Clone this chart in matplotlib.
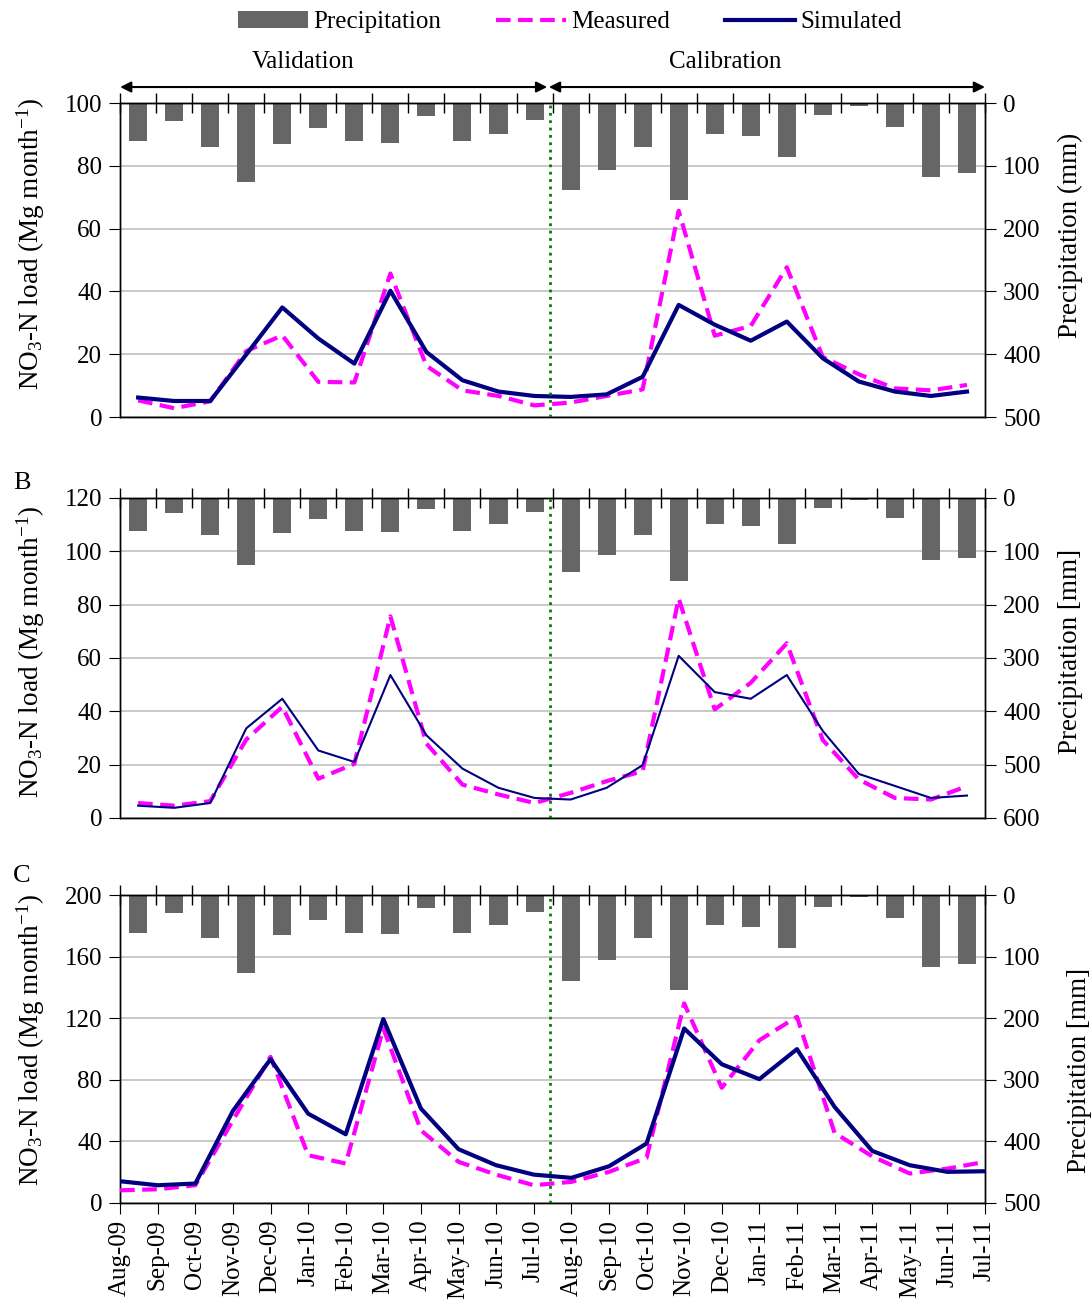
"""
NO3-N monthly load: measured vs simulated with precipitation bars,
three panels (A, B, C), validation / calibration periods.
"""
import numpy as np
import matplotlib
matplotlib.use('Agg')
import matplotlib.pyplot as plt
from matplotlib.patches import Patch
from matplotlib.lines import Line2D

plt.rcParams['font.family'] = ['Liberation Serif', 'DejaVu Serif']
plt.rcParams['mathtext.fontset'] = 'custom'
plt.rcParams['mathtext.rm'] = 'Liberation Serif'
plt.rcParams['mathtext.it'] = 'Liberation Serif:italic'

MONTHS = ['Aug-09', 'Sep-09', 'Oct-09', 'Nov-09', 'Dec-09', 'Jan-10',
          'Feb-10', 'Mar-10', 'Apr-10', 'May-10', 'Jun-10', 'Jul-10',
          'Aug-10', 'Sep-10', 'Oct-10', 'Nov-10', 'Dec-10', 'Jan-11',
          'Feb-11', 'Mar-11', 'Apr-11', 'May-11', 'Jun-11', 'Jul-11']

# precipitation (mm), same for all panels
PRECIP = [61, 29, 70, 126, 65, 40, 61, 64, 21, 61, 49, 27,
          139, 106, 70, 155, 49, 52, 86, 19, 4, 38, 117, 112]

# panel A
MEAS_A = [5.3, 2.8, 5.0, 21.0, 26.0, 11.2, 11.0, 45.7, 16.3, 8.5, 6.7, 3.7,
          4.6, 6.7, 8.8, 65.7, 25.9, 29.0, 47.7, 19.1, 13.6, 9.1, 8.5, 10.2]
SIM_A = [6.2, 5.1, 5.1, 19.9, 34.9, 25.0, 17.0, 40.2, 20.7, 11.7, 8.1, 6.7,
         6.4, 7.2, 12.8, 35.7, 29.4, 24.3, 30.4, 18.7, 11.3, 8.1, 6.7, 8.1]

# panel B
MEAS_B = [5.6, 4.6, 6.3, 29.4, 41.7, 14.7, 20.3, 75.6, 27.9, 12.5, 8.8, 5.6,
          9.4, 13.8, 17.5, 82.3, 40.7, 50.7, 65.5, 29.2, 14.4, 7.5, 6.9, 11.9]
SIM_B = [4.6, 3.8, 5.6, 33.6, 44.7, 25.3, 21.0, 53.6, 31.0, 18.5, 11.3, 7.5,
         6.9, 11.3, 19.8, 60.8, 47.2, 44.7, 53.6, 32.6, 16.5, 12.0, 7.5, 8.4]

# panel C
MEAS_C = [8.2, 8.9, 11.5, 53.7, 94.9, 31.0, 25.6, 113.3, 47.2, 26.7, 18.4, 11.5,
          13.7, 20.2, 29.3, 129.6, 74.8, 105.7, 120.9, 45.5, 30.3, 19.1, 22.3, 26.7]
SIM_C = [14.1, 11.5, 12.6, 59.8, 93.4, 58.0, 44.6, 119.4, 61.3, 34.9, 24.5, 18.4,
         16.3, 23.8, 38.6, 113.3, 90.1, 80.4, 99.9, 62.4, 33.8, 24.5, 20.2, 20.6]

BAR_C = '#666666'
MEAS_COL = '#ff00ff'
SIM_COL = '#000080'
GRID_C = '#c0c0c0'
FS = 18
DASH = (0, (3.5, 1.8))

n = len(MONTHS)
x_cat = np.arange(n) + 0.5                 # category centres (bars)
x_date = np.arange(n) * n / (n - 1)        # date axis ticks, edge to edge

fig = plt.figure(figsize=(10.92, 13.06), dpi=100)
L, R = 0.110, 0.902
boxes = [(0.6807, 0.9211), (0.3737, 0.6187), (0.0789, 0.3147)]

panels = [
    dict(meas=MEAS_A, sim=SIM_A, ymax=100, ystep=20, pmax=500, sim_lw=3.0,
         x=x_cat, rlab='Precipitation (mm)', rlab_xy=(1.084, 0.58),
         llab_y=0.55, dates=False),
    dict(meas=MEAS_B, sim=SIM_B, ymax=120, ystep=20, pmax=600, sim_lw=1.5,
         x=x_cat, rlab='Precipitation [mm]', rlab_xy=(1.084, 0.52),
         llab_y=0.52, dates=False),
    dict(meas=MEAS_C, sim=SIM_C, ymax=200, ystep=40, pmax=500, sim_lw=3.0,
         x=x_date, rlab='Precipitation [mm]', rlab_xy=(1.095, 0.43),
         llab_y=0.53, dates=True),
]

axes = []
for (bot, top), p in zip(boxes, panels):
    ax = fig.add_axes([L, bot, R - L, top - bot])
    ax2 = ax.twinx()
    ax.set_zorder(ax2.get_zorder() + 1)
    ax.patch.set_visible(False)

    # precipitation bars on inverted right axis
    ax2.bar(x_cat, PRECIP, width=0.5, color=BAR_C, zorder=2)
    ax2.set_ylim(p['pmax'], 0)
    ax2.set_yticks(np.arange(0, p['pmax'] + 1, 100))
    ax2.set_axisbelow(True)
    ax2.yaxis.grid(True, color=GRID_C, lw=1.2)
    ax2.tick_params(axis='y', direction='out', length=8, labelsize=FS, pad=5)
    ax2.set_ylabel(p['rlab'], fontsize=FS + 1.5)
    ax2.yaxis.set_label_coords(*p['rlab_xy'])

    # loads
    ax.plot(p['x'], p['meas'], color=MEAS_COL, lw=3, ls=DASH, zorder=3)
    ax.plot(p['x'], p['sim'], color=SIM_COL, lw=p['sim_lw'], zorder=4)
    ax.axvline(11.93, color='#008000', ls=':', lw=2, zorder=5)

    ax.set_xlim(0, n)
    ax.set_ylim(0, p['ymax'])
    ax.set_yticks(np.arange(0, p['ymax'] + 1, p['ystep']))
    ax.tick_params(axis='y', direction='out', length=8, labelsize=FS, pad=5)
    ax.set_ylabel(r'NO$_3$-N load (Mg month$^{-1}$)', fontsize=FS + 1.5)
    ax.yaxis.set_label_coords(-0.085, p['llab_y'])

    if p['dates']:
        ax.set_xticks(x_date)
        ax.set_xticklabels(MONTHS, rotation=90, fontsize=FS)
        ax.tick_params(axis='x', direction='out', length=8, pad=4)
    else:
        ax.tick_params(axis='x', bottom=False, labelbottom=False)

    sec = ax.secondary_xaxis('top')
    sec.set_xticks(np.arange(n + 1), labels=[''] * (n + 1))
    sec.tick_params(axis='x', direction='inout', length=14, width=1)

    for a in (ax, ax2):
        for s in a.spines.values():
            s.set_color('black')
            s.set_linewidth(1)
    axes.append(ax)

# validation / calibration arrows above panel A
axA = axes[0]
tr = axA.get_xaxis_transform()
split = 11.85
for x0, x1, xt, lab in [(0, split, 5.08, 'Validation'),
                        (split + 0.05, n, 16.8, 'Calibration')]:
    axA.annotate('', xy=(x0, 1.051), xytext=(x1, 1.051), xycoords=tr,
                 textcoords=tr, annotation_clip=False,
                 arrowprops=dict(arrowstyle='<|-|>', color='black', lw=1.5,
                                 mutation_scale=16, shrinkA=0, shrinkB=0))
    axA.text(xt, 1.13, lab, transform=tr, ha='center', va='center',
             fontsize=FS)

fig.text(0.02, 0.630, 'B', fontsize=FS + 1, ha='center', va='center')
fig.text(0.02, 0.329, 'C', fontsize=FS + 1, ha='center', va='center')

handles = [Patch(facecolor=BAR_C, edgecolor='none'),
           Line2D([], [], color=MEAS_COL, lw=3, ls=DASH),
           Line2D([], [], color=SIM_COL, lw=3)]
fig.legend(handles, ['Precipitation', 'Measured', 'Simulated'],
           loc='center', bbox_to_anchor=(0.522, 0.983), ncol=3,
           frameon=False, fontsize=FS, handlelength=2.8, handletextpad=0.2,
           columnspacing=2.2)

fig.savefig('out.png', dpi=100)
